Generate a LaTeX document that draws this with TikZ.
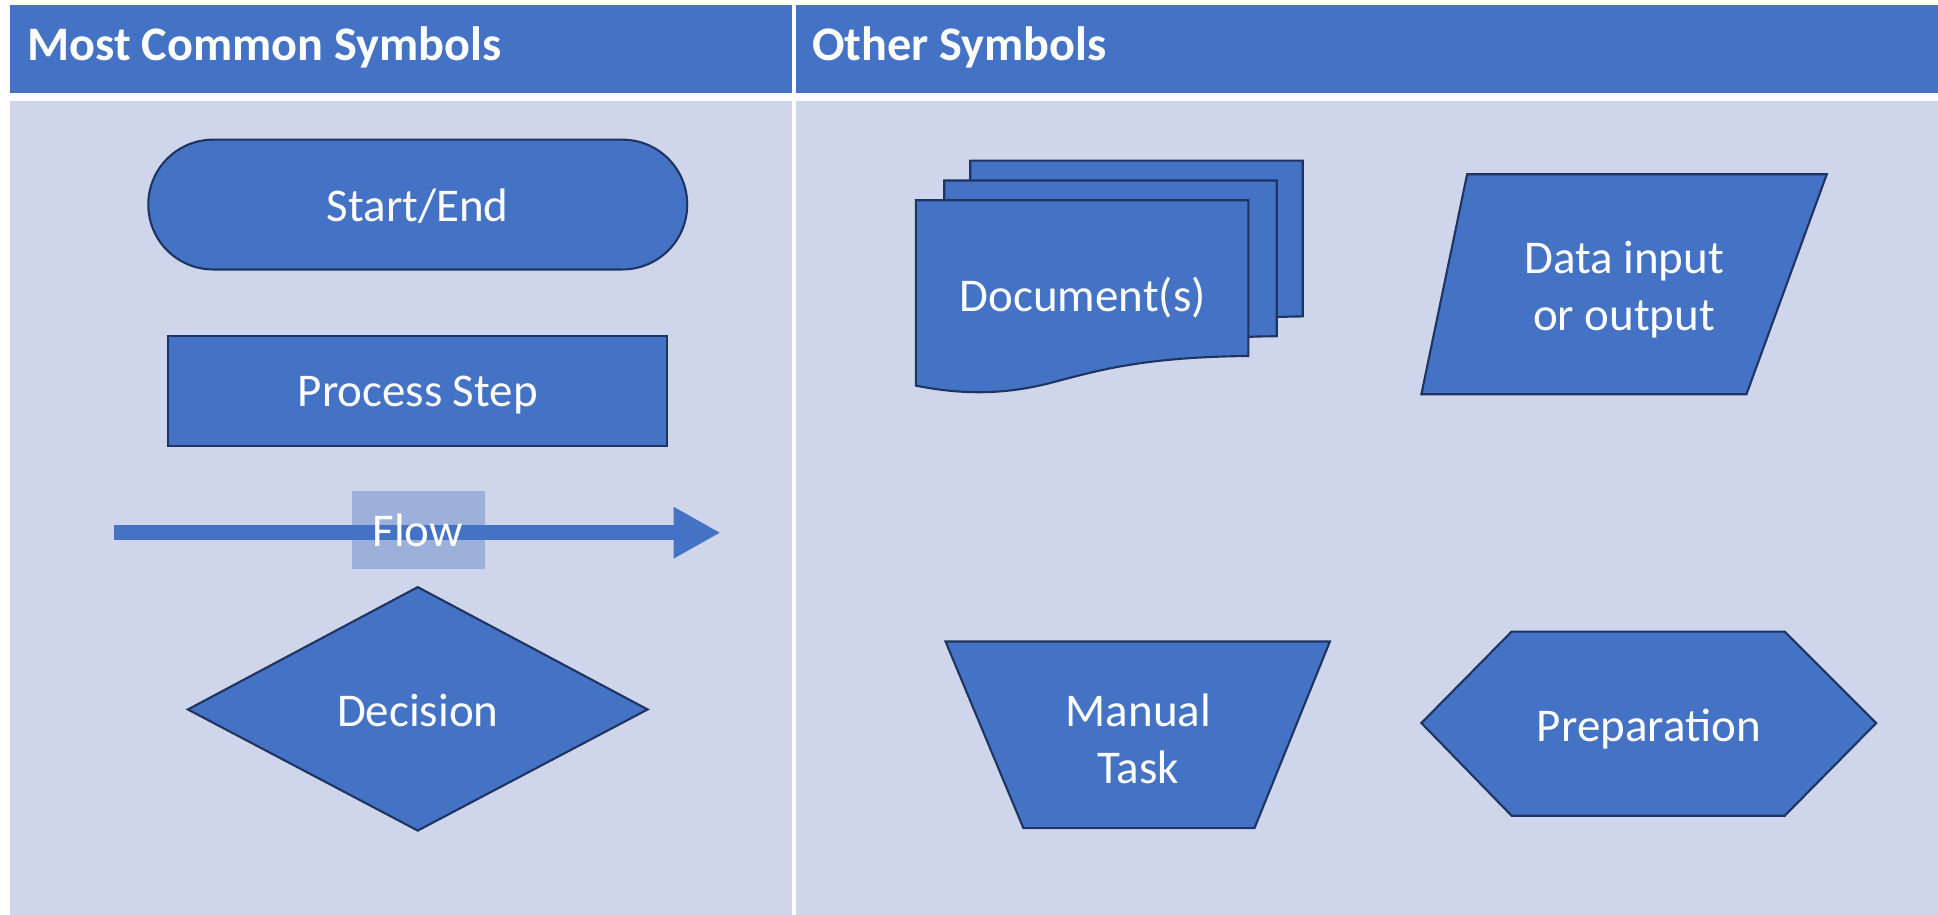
\documentclass[tikz,border=0pt]{standalone}
\usepackage{fontspec}
\setmainfont{Carlito}
\usetikzlibrary{arrows.meta}
\definecolor{hdr}{HTML}{4472C4}
\definecolor{bodybg}{HTML}{CFD5EA}
\definecolor{shapeblue}{HTML}{4472C4}
\definecolor{edge}{HTML}{1F3460}
\definecolor{flowbox}{HTML}{9DB0DC}
\begin{document}
\begin{tikzpicture}[x=1pt,y=-1pt,
  shp/.style={fill=shapeblue, draw=edge, line width=1.7pt, line join=miter},
  lbl/.style={text=white, font=\fontsize{38}{46}\selectfont, align=center, inner sep=0pt},
  hdrtext/.style={text=white, font=\fontsize{39}{46}\selectfont\bfseries, anchor=west, inner sep=0pt}]
\useasboundingbox (0,0) rectangle (1568,740);
\fill[white] (0,0) rectangle (1568,740);
% panels
\fill[hdr] (8,4) rectangle (641,75);
\fill[hdr] (644,4) rectangle (1568,75);
\fill[bodybg] (8,82) rectangle (641,740);
\fill[bodybg] (644,82) rectangle (1568,740);
\node[hdrtext] (h1) at (22,38) {Most Common Symbols};
\node[hdrtext] (h2) at (657,38) {Other Symbols};
% Start/End
\draw[shp, rounded corners=52.4pt] (120,113) rectangle (556,218);
\node[lbl] (startend) at (338,167) {Start/End};
% Process step
\draw[shp] (136,272) rectangle (540,361);
\node[lbl] (process) at (338,320) {Process Step};
% Flow
\node[fill=flowbox, minimum width=107pt, minimum height=63pt, inner sep=0pt] (flowbg) at (338.5,428.5) {};
\coordinate (fs) at (92,431);
\coordinate (fe) at (583,431);
\draw[hdr, line width=12pt, -{Triangle[length=38pt,width=39pt]}] (fs) -- (fe);
\node[lbl] (flow) at (338,429) {Flow};
% Decision
\draw[shp] (338,475) -- (524,574) -- (338,672) -- (152,574) -- cycle;
\node[lbl] (decision) at (338,575) {Decision};
% Documents
\foreach \dx/\dy in {785/130, 764/146, 741/162}{
  \draw[shp, shift={(\dx,\dy)}] (0,0) -- (269,0) -- (269,126)
    .. controls (185,127) and (150,137) .. (112,147)
    .. controls (75,157) and (40,158) .. (0,150) -- cycle;
}
\node[lbl] (docs) at (876,241) {Document(s)};
% Data input/output
\draw[shp] (1187,141) -- (1478,141) -- (1413,319) -- (1150,319) -- cycle;
\node[lbl] (data) at (1314,234) {Data input\\or output};
% Manual task
\draw[shp] (765,519) -- (1076,519) -- (1015,670) -- (828,670) -- cycle;
\node[lbl] (manual) at (921,598) {Manual\\Task};
% Preparation
\draw[shp] (1150,585) -- (1223,511) -- (1444,511) -- (1518,585) -- (1444,660) -- (1223,660) -- cycle;
\node[lbl] (prep) at (1334,590) {Preparation};
\end{tikzpicture}
\end{document}
